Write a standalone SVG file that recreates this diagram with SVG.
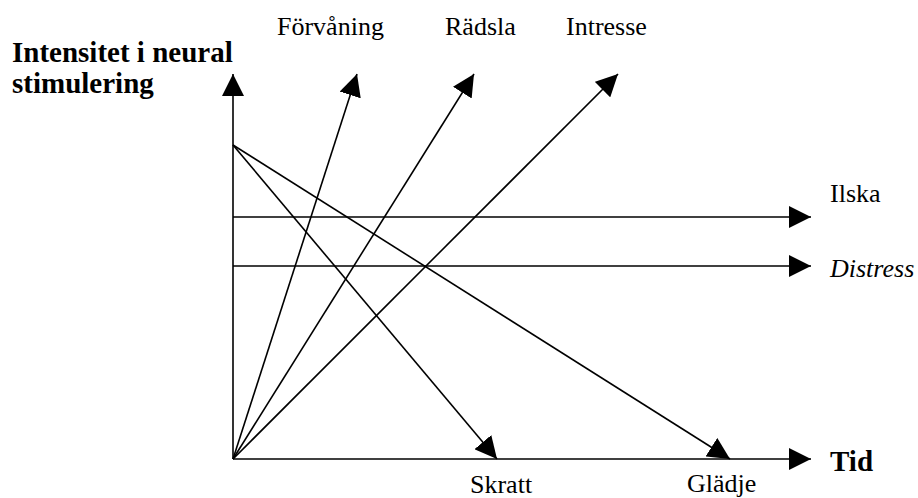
<svg xmlns="http://www.w3.org/2000/svg" width="918" height="498" viewBox="0 0 918 498">
  <defs>
    <marker id="arrow" markerUnits="userSpaceOnUse" markerWidth="22" markerHeight="22" viewBox="0 0 22 22" refX="22" refY="11" orient="auto">
      <path d="M0,0 L22,11 L0,22 z" fill="#000"/>
    </marker>
  </defs>
  <rect width="918" height="498" fill="#fff"/>

  <g id="connectors" stroke="#000" stroke-width="1.6" fill="none" marker-end="url(#arrow)">
    <line x1="233" y1="459" x2="233" y2="74"/>
    <line x1="233" y1="459" x2="811" y2="459"/>
    <line x1="233" y1="217" x2="811" y2="217"/>
    <line x1="233" y1="266" x2="811" y2="266"/>
    <line x1="233" y1="459" x2="357" y2="74"/>
    <line x1="233" y1="459" x2="474" y2="74"/>
    <line x1="233" y1="459" x2="618" y2="74"/>
    <line x1="233" y1="145" x2="497" y2="459"/>
    <line x1="233" y1="145" x2="730" y2="459"/>
  </g>

  <g id="y-axis-label">
    <text x="12" y="62" font-family="'Liberation Serif', serif" font-size="29" font-weight="bold">Intensitet i neural</text>
    <text x="12" y="93" font-family="'Liberation Serif', serif" font-size="29" font-weight="bold">stimulering</text>
  </g>
  <g id="x-axis-label">
    <text x="830" y="471" font-family="'Liberation Serif', serif" font-size="29" font-weight="bold">Tid</text>
  </g>
  <g id="forvaning"><text x="277" y="35" font-family="'Liberation Serif', serif" font-size="26">Förvåning</text></g>
  <g id="radsla"><text x="445" y="35" font-family="'Liberation Serif', serif" font-size="26">Rädsla</text></g>
  <g id="intresse"><text x="566" y="35" font-family="'Liberation Serif', serif" font-size="26">Intresse</text></g>
  <g id="ilska"><text x="830" y="202" font-family="'Liberation Serif', serif" font-size="26">Ilska</text></g>
  <g id="distress"><text x="830" y="277" font-family="'Liberation Serif', serif" font-size="26" font-style="italic">Distress</text></g>
  <g id="skratt"><text x="470" y="493" font-family="'Liberation Serif', serif" font-size="26">Skratt</text></g>
  <g id="gladje"><text x="687" y="492" font-family="'Liberation Serif', serif" font-size="26">Glädje</text></g>
</svg>
